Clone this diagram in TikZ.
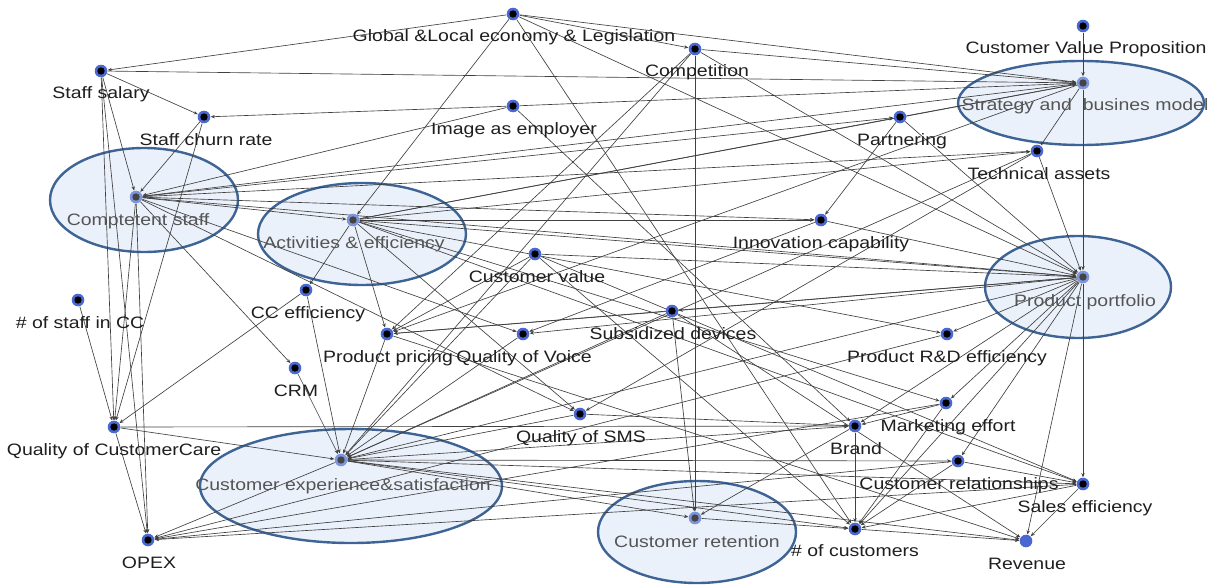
\documentclass[tikz,border=0pt]{standalone}
\usepackage{fontspec}
\setmainfont{Liberation Sans}[FakeStretch=1.18]
\usetikzlibrary{arrows.meta,shapes.geometric}
\definecolor{linec}{HTML}{404040}
\definecolor{zoneedge}{HTML}{3D6494}
\definecolor{zonefill}{HTML}{EBF1FA}
\definecolor{dotblue}{HTML}{4A68D2}
\definecolor{hubblue}{HTML}{7C95DC}
\definecolor{hubcore}{HTML}{444444}
\definecolor{labelc}{HTML}{1E1E1E}
\definecolor{hubtext}{HTML}{555555}
\newcommand{\lblfont}{\fontsize{16.5}{18}\selectfont}
\tikzset{
  pt/.style={circle, minimum size=13pt, inner sep=0pt},
  lbl/.style={anchor=base, font=\lblfont, text=labelc, inner sep=0pt},
  hublbl/.style={anchor=base, font=\lblfont, text=hubtext, inner sep=0pt},
  link/.style={draw=linec, line width=0.65pt, -{Stealth[length=4.2pt,width=3.4pt]}},
  zone/.style={ellipse, draw=zoneedge, fill=zonefill, line width=2.4pt, inner sep=0pt}
}
\begin{document}
\begin{tikzpicture}[x=1pt,y=-1pt]
\useasboundingbox (0,0) rectangle (1215,586);

% highlighted areas
\node[zone, minimum width=246pt, minimum height=84pt] (strat-z) at (1081,103) {};
\node[zone, minimum width=188pt, minimum height=104pt] (cstaff-z) at (144,200) {};
\node[zone, minimum width=208pt, minimum height=102pt] (activ-z) at (362,234) {};
\node[zone, minimum width=186pt, minimum height=102pt] (pport-z) at (1078,287) {};
\node[zone, minimum width=302pt, minimum height=114pt] (cexp-z) at (351,486) {};
\node[zone, minimum width=198pt, minimum height=102pt] (retent-z) at (697,532) {};

% factor points
\node[pt] (glob) at (513,14) {};
\node[pt] (comp) at (695,49) {};
\node[pt] (cvp) at (1083,26) {};
\node[pt] (strat) at (1083,83) {};
\node[pt] (salary) at (101,71) {};
\node[pt] (churn) at (204,117) {};
\node[pt] (image) at (513,106) {};
\node[pt] (partner) at (900,117) {};
\node[pt] (tech) at (1037,151) {};
\node[pt] (cstaff) at (136,197) {};
\node[pt] (activ) at (353,220) {};
\node[pt] (innov) at (821,220) {};
\node[pt] (cvalue) at (535,254) {};
\node[pt] (pport) at (1083,277) {};
\node[pt] (staffcc) at (78,300) {};
\node[pt] (cceff) at (306,290) {};
\node[pt] (pricing) at (387,334) {};
\node[pt] (voice) at (523,334) {};
\node[pt] (subsid) at (672,311) {};
\node[pt] (rnd) at (947,334) {};
\node[pt] (crm) at (295,368) {};
\node[pt] (qcc) at (114,427) {};
\node[pt] (sms) at (580,414) {};
\node[pt] (market) at (946,403) {};
\node[pt] (brand) at (855,426) {};
\node[pt] (cexp) at (341,460) {};
\node[pt] (crel) at (958,461) {};
\node[pt] (sales) at (1083,484) {};
\node[pt] (retent) at (695,518) {};
\node[pt] (ncust) at (855,529) {};
\node[pt] (opex) at (148,540) {};
\node[pt] (revenue) at (1026,541) {};

% influence links
\foreach \a/\b in {
  glob/salary, glob/comp, glob/strat, glob/activ, glob/pport, glob/ncust,
  comp/strat, comp/pport, comp/retent, comp/pricing, comp/cexp,
  cvp/strat,
  strat/pport, strat/tech, partner/strat, strat/pricing,
  salary/strat, salary/churn, salary/cstaff, salary/qcc, salary/opex,
  churn/cstaff, churn/qcc, image/churn,
  image/strat, image/cstaff, image/brand,
  cstaff/strat, cstaff/partner, cstaff/tech, cstaff/innov, cstaff/activ,
  cstaff/pport, cstaff/crm, cstaff/voice, cstaff/sms, cstaff/qcc, cstaff/opex,
  activ/strat, activ/partner, activ/tech, activ/innov, activ/pport, activ/rnd,
  activ/pricing, activ/cceff, activ/sms, activ/market, activ/sales,
  partner/innov, partner/pport,
  tech/pport, tech/sms, tech/cexp,
  innov/pport, innov/voice,
  cvalue/pport, cvalue/pricing, cvalue/cexp, cvalue/ncust, cvalue/sales,
  pport/pricing, pport/voice, pport/subsid, pport/cexp, pport/rnd, pport/market,
  pport/brand, pport/crel, pport/revenue, pport/sales, pport/ncust,
  staffcc/qcc,
  cceff/qcc, cceff/cexp,
  pricing/cexp, pricing/revenue,
  voice/cexp,
  subsid/pricing, subsid/retent, subsid/revenue, subsid/cexp,
  rnd/opex,
  crm/cexp,
  qcc/cexp, qcc/brand, qcc/opex,
  sms/cexp, sms/brand,
  cexp/brand, cexp/crel, cexp/retent, cexp/ncust, cexp/revenue, cexp/sales, cexp/opex,
  market/ncust, market/opex, market/brand,
  brand/ncust, brand/retent,
  crel/ncust, crel/sales, crel/opex,
  sales/ncust, sales/revenue, sales/opex,
  retent/ncust,
  ncust/revenue}
  \draw[link] (\a) -- (\b);

% point markers
\foreach \n in {glob, comp, cvp, salary, churn, image, partner, tech, innov,
  cvalue, staffcc, cceff, pricing, voice, subsid, rnd, crm, qcc, sms,
  market, brand, crel, sales, ncust, opex} {
  \fill[dotblue] (\n.center) circle (6.3pt);
  \fill[black] (\n.center) circle (3.7pt);
}
\foreach \n in {strat, cstaff, activ, pport, cexp, retent} {
  \fill[hubblue] (\n.center) circle (6.3pt);
  \fill[hubcore] (\n.center) circle (3.7pt);
}
\fill[dotblue] (revenue.center) circle (6.3pt);

% labels
\node[lbl] (glob-l) at (514,42) {Global \&Local economy \& Legislation};
\node[lbl] (comp-l) at (697,77) {Competition};
\node[lbl] (cvp-l) at (1086,54) {Customer Value Proposition};
\node[lbl] (salary-l) at (101,99) {Staff salary};
\node[lbl] (churn-l) at (206,145) {Staff churn rate};
\node[lbl] (image-l) at (514,134) {Image as employer};
\node[lbl] (partner-l) at (902,145) {Partnering};
\node[lbl] (tech-l) at (1039,179) {Technical assets};
\node[lbl] (innov-l) at (821,248) {Innovation capability};
\node[lbl] (cvalue-l) at (537,282) {Customer value};
\node[lbl] (staffcc-l) at (80,328) {\# of staff in CC};
\node[lbl] (cceff-l) at (308,318) {CC efficiency};
\node[lbl] (pricing-l) at (388,362) {Product pricing};
\node[lbl] (voice-l) at (524,362) {Quality of Voice};
\node[lbl] (subsid-l) at (673,339) {Subsidized devices};
\node[lbl] (rnd-l) at (947,362) {Product R\&D efficiency};
\node[lbl] (crm-l) at (296,396) {CRM};
\node[lbl] (qcc-l) at (114,455) {Quality of CustomerCare};
\node[lbl] (sms-l) at (581,442) {Quality of SMS};
\node[lbl] (market-l) at (948,431) {Marketing effort};
\node[lbl] (brand-l) at (856,454) {Brand};
\node[lbl] (crel-l) at (959,489) {Customer relationships};
\node[lbl] (sales-l) at (1085,512) {Sales efficiency};
\node[lbl] (ncust-l) at (855,556) {\# of customers};
\node[lbl] (opex-l) at (149,568) {OPEX};
\node[lbl] (revenue-l) at (1027,569) {Revenue};

\node[hublbl] (strat-l) at (1085,110) {Strategy and\ \ busines model};
\node[hublbl] (cstaff-l) at (138,225) {Comptetent staff};
\node[hublbl] (activ-l) at (354,248) {Activities \& efficiency};
\node[hublbl] (pport-l) at (1085,306) {Product portfolio};
\node[hublbl] (cexp-l) at (343,490) {Customer experience\&satisfaction};
\node[hublbl] (retent-l) at (697,547) {Customer retention};
\end{tikzpicture}
\end{document}
